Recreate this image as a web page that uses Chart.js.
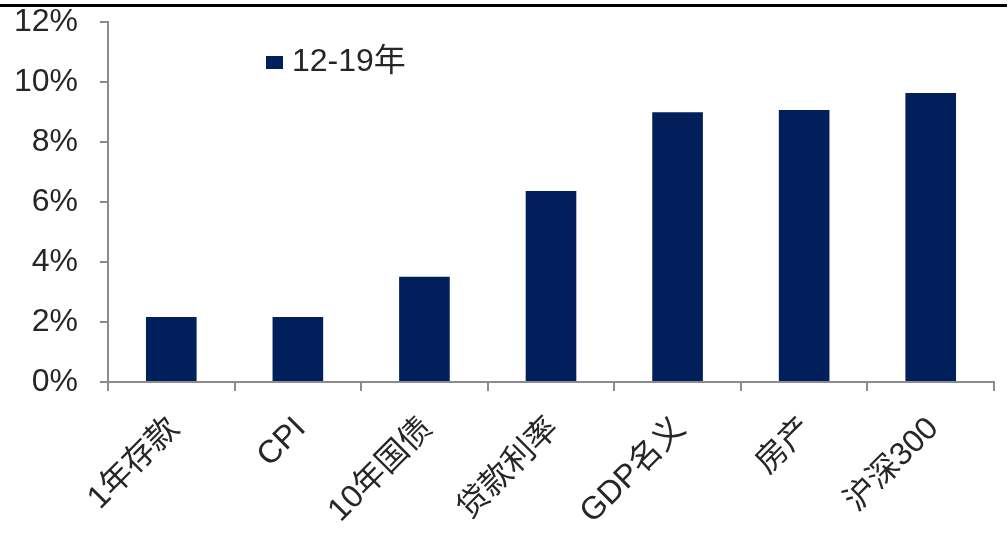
<!DOCTYPE html>
<html>
<head>
<meta charset="utf-8">
<script src="https://cdn.jsdelivr.net/npm/chart.js@4/dist/chart.umd.min.js"></script>
<style>
  html, body { margin: 0; padding: 0; background: #fff; }
  #wrap { position: relative; width: 1008px; height: 533px; }
  #rule { position: absolute; left: 0; top: 4px; width: 1007px; height: 3px; background: #000; }
  canvas { position: absolute; left: 0; top: 0; }
</style>
</head>
<body>
<div id="wrap">
  <canvas id="c" width="1008" height="533"></canvas>
  <div id="rule"></div>
</div>
<script>
// Annualised returns, 2012-2019
const categories = ['1年存款', 'CPI', '10年国债', '贷款利率', 'GDP名义', '房产', '沪深300'];
const seriesName = '12-19年';
const returns = [2.17, 2.17, 3.51, 6.37, 8.99, 9.07, 9.63];
const yTicks = [0, 2, 4, 6, 8, 10, 12];

const NAVY = '#001F5B';
const AXIS = '#8C8C8C';
const TEXT = '#262626';
const FONT = '"Liberation Sans", Arial, "Noto Sans CJK SC", sans-serif';

// Legend drawn inside the plot area, upper left
const innerLegend = {
  id: 'innerLegend',
  afterDraw(chart) {
    const ds = chart.data.datasets[0];
    const ctx = chart.ctx;
    ctx.save();
    ctx.fillStyle = ds.backgroundColor;
    ctx.fillRect(266, 56, 17, 13);
    ctx.fillStyle = TEXT;
    ctx.font = '32px ' + FONT;
    ctx.textAlign = 'left';
    ctx.textBaseline = 'middle';
    ctx.fillText(ds.label, 292, 62);
    ctx.restore();
  }
};

new Chart(document.getElementById('c'), {
  type: 'bar',
  data: {
    labels: categories,
    datasets: [{
      label: seriesName,
      data: returns,
      backgroundColor: NAVY,
      borderWidth: 0,
      barPercentage: 0.4,
      categoryPercentage: 1.0
    }]
  },
  options: {
    responsive: false,
    animation: false,
    layout: { autoPadding: false, padding: { top: 22, right: 14, left: 0, bottom: 0 } },
    plugins: { legend: { display: false }, tooltip: { enabled: false } },
    scales: {
      x: {
        afterFit(s) { s.height = 151; },
        border: { display: true, color: AXIS, width: 2 },
        grid: {
          offset: true,
          drawOnChartArea: false,
          drawTicks: true,
          tickLength: 9,
          lineWidth: 2,
          color: (c) => (c.index === categories.length ? 'rgba(0,0,0,0)' : AXIS)
        },
        ticks: {
          autoSkip: false,
          minRotation: 45,
          maxRotation: 45,
          padding: 19,
          labelOffset: 3,
          color: TEXT,
          font: { family: FONT, size: 32 }
        }
      },
      y: {
        min: yTicks[0],
        max: yTicks[yTicks.length - 1],
        afterFit(s) { s.width = 108; s.paddingTop = 0; s.paddingBottom = 0; },
        afterBuildTicks(s) { s.ticks = yTicks.map(v => ({ value: v })); },
        border: { display: true, color: AXIS, width: 2 },
        grid: {
          drawOnChartArea: false,
          drawTicks: true,
          tickLength: 8,
          lineWidth: 2,
          color: AXIS
        },
        ticks: {
          padding: 22,
          color: TEXT,
          font: { family: FONT, size: 32 },
          callback: (v) => v + '%'
        }
      }
    }
  },
  plugins: [innerLegend]
});
</script>
</body>
</html>
